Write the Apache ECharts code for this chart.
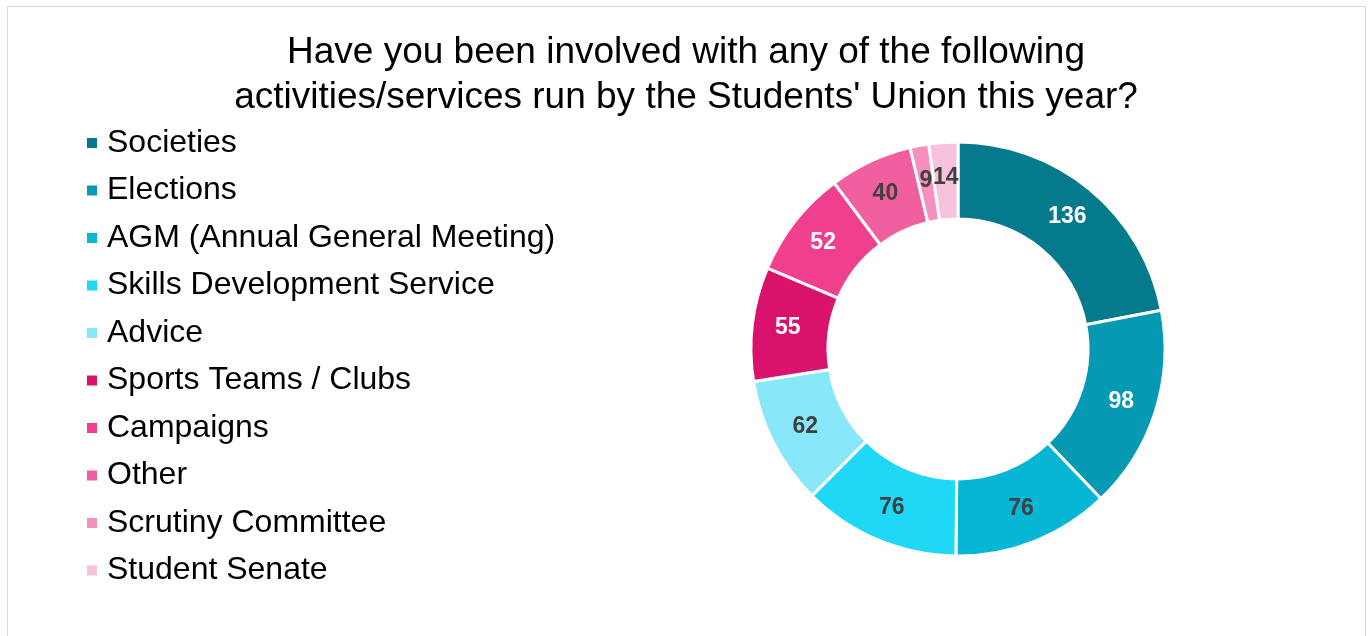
<!DOCTYPE html>
<html><head><meta charset="utf-8">
<script src="https://cdn.jsdelivr.net/npm/echarts@6/dist/echarts.min.js"></script>
<style>html,body{margin:0;padding:0;background:#fff}#c{width:1372px;height:636px}</style>
</head><body><div id="c"></div>
<script>
const categories = ["Societies","Elections","AGM (Annual General Meeting)","Skills Development Service","Advice","Sports Teams / Clubs","Campaigns","Other","Scrutiny Committee","Student Senate"];
const values = [136,98,76,76,62,55,52,40,9,14];
const colors = ["#047a8c","#0599b3","#07b6d4","#1ed8f5","#88e8f9","#d9136b","#ef3f8e","#f15f9f","#f590bf","#f9c2dc"];
const labelColors = ["#ffffff","#ffffff","#404040","#404040","#404040","#ffffff","#ffffff","#404040","#404040","#404040"];
const FONT = "Liberation Sans, Arial, sans-serif";
const chart = echarts.init(document.getElementById('c'));
chart.setOption({
  animation:false,
  graphic:[{type:'rect',shape:{x:7.5,y:6.5,width:1358,height:640},style:{fill:'none',stroke:'#d9d9d9',lineWidth:1}}],
  title:{text:"Have you been involved with any of the following\nactivities/services run by the Students' Union this year?",left:'center',top:25,
    textStyle:{fontFamily:FONT,fontSize:37,fontWeight:'normal',color:'#000',lineHeight:45}},
  legend:{orient:'vertical',left:80,top:121,icon:'rect',itemWidth:12,itemHeight:12,itemGap:13.5,
    textStyle:{fontFamily:FONT,fontSize:32,color:'#000',lineHeight:34,padding:[0,0,0,4]},data:categories},
  series:[{type:'pie',center:[958,349],radius:[130,207],startAngle:90,clockwise:true,
    itemStyle:{borderColor:'#fff',borderWidth:3},
    label:{position:'inside',fontFamily:FONT,fontSize:23,fontWeight:'bold',formatter:'{c}'},
    labelLine:{show:false},
    data:categories.map((n,i)=>({name:n,value:values[i],itemStyle:{color:colors[i]},label:{color:labelColors[i]}}))
  }]
});
</script></body></html>
